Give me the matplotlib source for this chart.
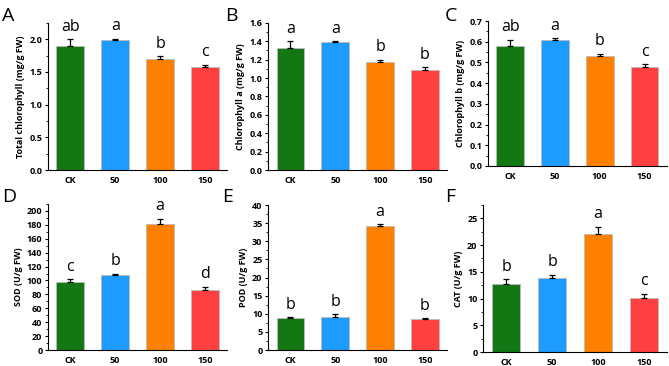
import numpy as np
import matplotlib.pyplot as plt
from matplotlib.ticker import MultipleLocator, AutoMinorLocator

plt.rcParams["font.family"] = ["Open Sans", "DejaVu Sans"]

groups = ["CK", "50", "100", "150"]
colors = ["#137813", "#1E9BFF", "#FF8000", "#FF4040"]

total_chl = [1.90, 1.99, 1.70, 1.57]
total_chl_err = [0.10, 0.02, 0.04, 0.04]
total_chl_sig = ["ab", "a", "b", "c"]

chl_a = [1.33, 1.39, 1.17, 1.09]
chl_a_err = [0.07, 0.01, 0.03, 0.03]
chl_a_sig = ["a", "a", "b", "b"]

chl_b = [0.58, 0.61, 0.53, 0.48]
chl_b_err = [0.03, 0.006, 0.013, 0.013]
chl_b_sig = ["ab", "a", "b", "c"]

sod = [98, 108, 181, 86]
sod_err = [4, 2, 8, 5]
sod_sig = ["c", "b", "a", "d"]

pod = [8.7, 9.2, 34.1, 8.5]
pod_err = [0.4, 0.6, 0.7, 0.3]
pod_sig = ["b", "b", "a", "b"]

cat = [12.8, 13.8, 22.0, 10.1]
cat_err = [0.8, 0.7, 1.4, 0.8]
cat_sig = ["b", "b", "a", "c"]

panels = [
    ("A", total_chl, total_chl_err, total_chl_sig, "Total chlorophyll (mg/g FW)", 2.25, 0.5, [0.0717, 0.5355, 0.268, 0.402]),
    ("B", chl_a, chl_a_err, chl_a_sig, "Chlorophyll a (mg/g FW)", 1.6, 0.2, [0.4006, 0.5355, 0.268, 0.402]),
    ("C", chl_b, chl_b_err, chl_b_sig, "Chlorophyll b (mg/g FW)", 0.7, 0.1, [0.729, 0.5465, 0.268, 0.396]),
    ("D", sod, sod_err, sod_sig, "SOD (U/g FW)", 210, 20, [0.0717, 0.0437, 0.268, 0.399]),
    ("E", pod, pod_err, pod_sig, "POD (U/g FW)", 40, 5, [0.4006, 0.0437, 0.268, 0.396]),
    ("F", cat, cat_err, cat_sig, "CAT (U/g FW)", 27.5, 5, [0.722, 0.038, 0.275, 0.402]),
]

fig = plt.figure(figsize=(6.69, 3.66), dpi=100)
x = np.arange(1, 5)

for label, vals, errs, sig, ylabel, ymax, step, pos in panels:
    ax = fig.add_axes(pos)
    ax.bar(x, vals, width=0.62, color=colors, edgecolor="#bbbbbb", linewidth=0.6, zorder=2)
    ax.errorbar(x, vals, yerr=[np.zeros(4), errs], fmt="none", ecolor="black",
                elinewidth=0.9, capsize=2.2, capthick=0.9, zorder=3)
    for xi, v, e, s in zip(x, vals, errs, sig):
        ax.text(xi, v + e + ymax * 0.03, s, ha="center", va="bottom", fontsize=11.5)
    ax.set_xlim(0.5, 4.5)
    ax.set_ylim(0, ymax)
    ax.yaxis.set_major_locator(MultipleLocator(step))
    ax.yaxis.set_minor_locator(AutoMinorLocator(2))
    if label in "ABC":
        ax.yaxis.set_major_formatter(plt.FormatStrFormatter("%.1f"))
    ax.set_xticks(x)
    ax.set_xticklabels(groups, fontsize=6.5, fontweight="bold")
    ax.tick_params(axis="x", length=0, pad=4)
    ax.tick_params(axis="y", which="major", length=2.5, width=0.8, labelsize=6.5, pad=1.5)
    ax.tick_params(axis="y", which="minor", length=1.5, width=0.6)
    for t in ax.get_yticklabels():
        t.set_fontweight("bold")
    ax.set_ylabel(ylabel, fontsize=6.5, fontweight="bold", labelpad=3)
    ax.spines["top"].set_visible(False)
    ax.spines["right"].set_visible(False)
    ax.spines["left"].set_linewidth(0.8)
    ax.spines["bottom"].set_linewidth(0.8)

for lab, fx, fy in [("A", 0.003, 0.98), ("B", 0.336, 0.98), ("C", 0.665, 0.98),
                    ("D", 0.003, 0.485), ("E", 0.332, 0.485), ("F", 0.665, 0.485)]:
    fig.text(fx, fy, lab, fontsize=14, ha="left", va="top")

fig.savefig("out.png", dpi=100)
